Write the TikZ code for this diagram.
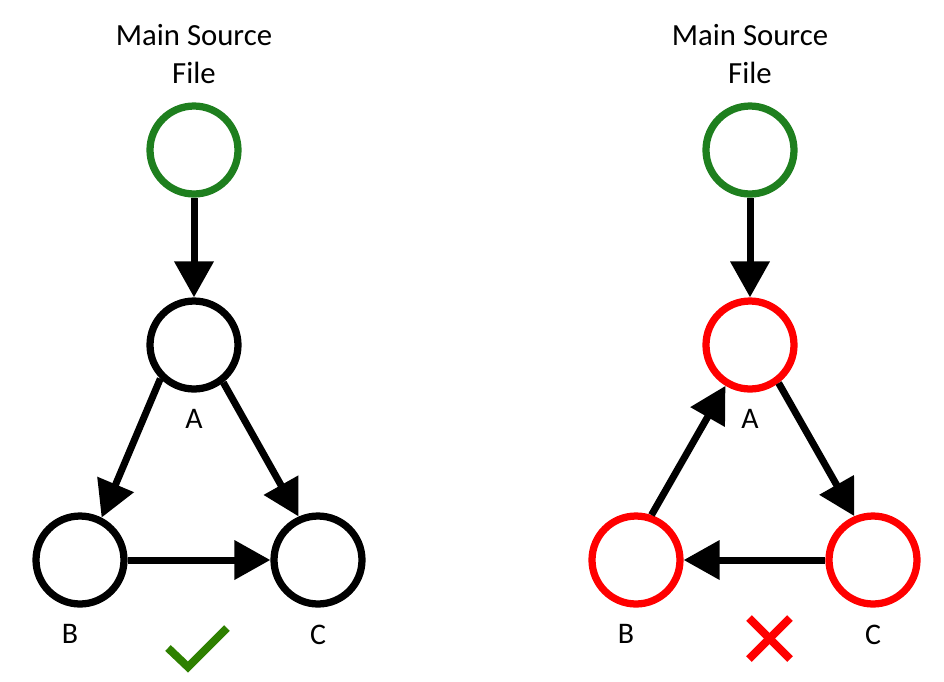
\documentclass[tikz,border=0pt]{standalone}
\usepackage{fontspec}
\setmainfont{Carlito}
\usetikzlibrary{arrows.meta, positioning}
\definecolor{filegreen}{HTML}{1E7F1E}
\definecolor{okgreen}{HTML}{2E8000}
\definecolor{badred}{HTML}{FF0000}

\begin{document}
\begin{tikzpicture}[
  x=0.02cm, y=-0.02cm,
  module/.style={circle, draw, line width=0.145cm, minimum size=1.76cm, inner sep=0pt},
  lbl/.style={font=\fontsize{17}{20}\selectfont},
  title/.style={font=\fontsize{17.5}{21.5}\selectfont, align=center},
  dep/.style={-{Triangle[length=0.72cm, width=0.76cm]}, line width=0.14cm},
  verdict/.style={line width=0.16cm}
]
  \useasboundingbox (0,0) rectangle (944,681);

  % acyclic includes
  \node[title] (t1) at (194,54) {Main Source\\File};
  \node[module, draw=filegreen] (m1) at (194,150) {};
  \node[module] (a1) at (194,345) {};
  \node[module] (b1) at (80,560) {};
  \node[module] (c1) at (318,560) {};
  \node[lbl, below=0.22cm of a1] {A};
  \node[lbl, below=0.22cm of b1, xshift=-0.2cm] {B};
  \node[lbl, below=0.22cm of c1] {C};
  \draw[dep] (m1.south) -- (a1.north);
  \draw[dep] (a1.225) -- (b1.63);
  \draw[dep] (a1.308) -- (c1.114);
  \draw[dep] (b1.east) -- (c1.west);
  \draw[verdict, draw=okgreen] (168,648) -- (188,667) -- (227,628);

  % cyclic includes
  \node[title] (t2) at (750,54) {Main Source\\File};
  \node[module, draw=filegreen] (m2) at (750,150) {};
  \node[module, draw=badred] (a2) at (750,345) {};
  \node[module, draw=badred] (b2) at (636,560) {};
  \node[module, draw=badred] (c2) at (873,560) {};
  \node[lbl, below=0.22cm of a2] {A};
  \node[lbl, below=0.22cm of b2, xshift=-0.2cm] {B};
  \node[lbl, below=0.22cm of c2] {C};
  \draw[dep] (m2.south) -- (a2.north);
  \draw[dep] (b2.71) -- (a2.239);
  \draw[dep] (a2.307) -- (c2.113);
  \draw[dep] (c2.west) -- (b2.east);
  \draw[verdict, draw=badred] (749,618) -- (790,659);
  \draw[verdict, draw=badred] (790,618) -- (749,659);
\end{tikzpicture}
\end{document}
